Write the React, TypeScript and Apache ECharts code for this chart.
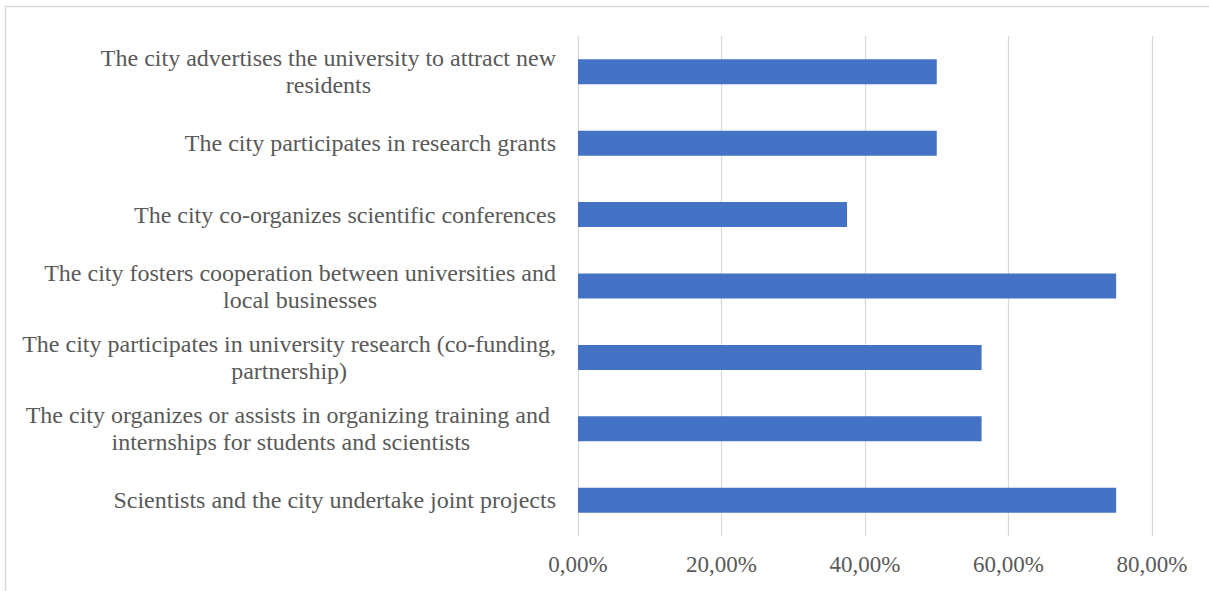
import React, { useEffect, useRef } from "react";
import * as echarts from "echarts";

const categories: string[] = [
  "The city advertises the university to attract new\nresidents",
  "The city participates in research grants",
  "The city co-organizes scientific conferences",
  "The city fosters cooperation between universities and\nlocal businesses",
  "The city participates in university research (co-funding,\npartnership)",
  "The city organizes or assists in organizing training and \ninternships for students and scientists",
  "Scientists and the city undertake joint projects",
];

const values: number[] = [50, 50, 37.5, 75, 56.25, 56.25, 75];

const xTicks: number[] = [0, 20, 40, 60, 80];

const FONT = '"Liberation Serif", "Times New Roman", serif';
const TEXT = "#595959";

export default function App() {
  const ref = useRef<HTMLDivElement>(null);

  useEffect(() => {
    if (!ref.current) return;
    const chart = echarts.init(ref.current, undefined, { renderer: "svg" });
    chart.setOption({
      animation: false,
      backgroundColor: "#ffffff",
      graphic: [
        {
          type: "rect",
          shape: { x: 5.5, y: 6.5, width: 1300, height: 700 },
          style: { fill: "none", stroke: "#d9d9d9", lineWidth: 1.5 },
          silent: true,
        },
      ],
      grid: { left: 578, right: 57, top: 36, bottom: 55, containLabel: false },
      xAxis: {
        type: "value",
        min: xTicks[0],
        max: xTicks[xTicks.length - 1],
        interval: 20,
        axisLine: { show: false },
        axisTick: { show: false },
        splitLine: { show: true, lineStyle: { color: "#d9d9d9", width: 1.2 } },
        axisLabel: {
          color: TEXT,
          fontFamily: FONT,
          fontSize: 23,
          margin: 17,
          formatter: (v: number) => v.toFixed(2).replace(".", ",") + "%",
        },
      },
      yAxis: {
        type: "category",
        data: categories,
        inverse: true,
        axisLine: { show: false },
        axisTick: { show: false },
        axisLabel: {
          margin: 22,
          align: "right",
          formatter: (v: string) =>
            v
              .split("\n")
              .map((l) => `{c|${l}}`)
              .join("\n"),
          rich: {
            c: {
              align: "center",
              color: TEXT,
              fontFamily: FONT,
              fontSize: 24,
              lineHeight: 27,
            },
          },
        },
      },
      series: [
        {
          type: "bar",
          data: values,
          barWidth: 25,
          itemStyle: { color: "#4472C4" },
        },
      ],
    });
    return () => chart.dispose();
  }, []);

  return (
    <div
      ref={ref}
      style={{ position: "fixed", left: 0, top: 0, width: 1209, height: 591 }}
    />
  );
}
